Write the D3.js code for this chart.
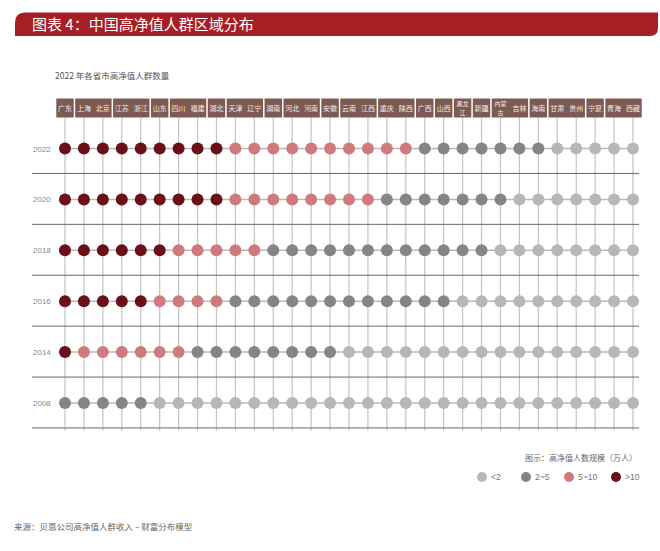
<!DOCTYPE html>
<html><head><meta charset="utf-8">
<script src="https://cdn.jsdelivr.net/npm/d3@7/dist/d3.min.js"></script>
<style>
html,body{margin:0;padding:0;background:#fff;}
svg{display:block;font-family:"Noto Sans CJK SC","Noto Sans",sans-serif;}
</style></head>
<body><svg id="chart" width="660" height="551"></svg>
<script>
// ---- data ----
const provinces = ["广东","上海","北京","江苏","浙江","山东","四川","福建","湖北","天津","辽宁","湖南","河北","河南","安徽","云南","江西","重庆","陕西","广西","山西","黑龙江","新疆","内蒙古","吉林","海南","甘肃","贵州","宁夏","青海","西藏"];
const headerGroups = [["广东"],["上海","北京"],["江苏","浙江"],["山东"],["四川","福建"],["湖北"],["天津","辽宁"],["湖南"],["河北","河南"],["安徽"],["云南","江西"],["重庆","陕西"],["广西"],["山西"],["黑龙江"],["新疆"],["内蒙古","吉林"],["海南"],["甘肃","贵州"],["宁夏"],["青海","西藏"]];
const years = ["2022","2020","2018","2016","2014","2008"];
const levels = ["<2","2~5","5~10",">10"];
const levelColors = ["#b7b7b7","#858585","#cf7b7e","#6b0f18"];
// level index per province (0:<2, 1:2~5, 2:5~10, 3:>10)
const level2022 = [3,3,3,3,3,3,3,3,3,2,2,2,2,2,2,2,2,2,2,1,1,1,1,1,1,1,0,0,0,0,0];
const level2020 = [3,3,3,3,3,3,3,3,3,2,2,2,2,2,2,2,2,1,1,1,1,1,1,1,0,0,0,0,0,0,0];
const level2018 = [3,3,3,3,3,3,2,2,2,2,2,1,1,1,1,1,1,1,1,1,1,1,1,0,0,0,0,0,0,0,0];
const level2016 = [3,3,3,3,3,2,2,2,2,1,1,1,1,1,1,1,1,1,1,1,1,0,0,0,0,0,0,0,0,0,0];
const level2014 = [3,2,2,2,2,2,2,1,1,1,1,1,1,1,1,0,0,0,0,0,0,0,0,0,0,0,0,0,0,0,0];
const level2008 = [1,1,1,1,1,0,0,0,0,0,0,0,0,0,0,0,0,0,0,0,0,0,0,0,0,0,0,0,0,0,0];
const levelsByYear = {"2022":level2022,"2020":level2020,"2018":level2018,"2016":level2016,"2014":level2014,"2008":level2008};

const titleText = "图表 4：中国高净值人群区域分布";
const subtitleText = "2022 年各省市高净值人群数量";
const legendTitle = "图示：高净值人数规模（万人）";
const sourceText = "来源：贝恩公司高净值人群收入 – 财富分布模型";

// ---- drawing ----
const svg = d3.select("#chart");

// title band
(function(){
  const x0=15,x1=658,y0=12.5,y1=36,r1=10,r2=8;
  const p = d3.path();
  p.moveTo(x0, y1);
  p.lineTo(x0, y0+r1);
  p.quadraticCurveTo(x0, y0, x0+r1, y0);
  p.lineTo(x1, y0);
  p.lineTo(x1, y1-r2);
  p.quadraticCurveTo(x1, y1, x1-r2, y1);
  p.closePath();
  svg.append("path").attr("d", p.toString()).attr("fill","#a61f25");
  svg.append("text").attr("x",32).attr("y",29.5).attr("fill","#fff")
    .attr("font-size",15).text(titleText);
})();

svg.append("text").attr("x",55).attr("y",79).attr("fill","#555")
  .attr("font-size",8.5).text(subtitleText);

const x = d3.scalePoint().domain(provinces).range([65, 633]);
const step = x.step();
const y = d3.scalePoint().domain(years).range([148.5, 403]);
const rowStep = y.step();
const headerTop = 98.5, headerBottom = 117.5;
const gridBottom = y(years[years.length-1]) + rowStep/2 + 2;

// vertical lines
svg.append("g").selectAll("line").data(provinces).join("line")
  .attr("x1", d=>x(d)).attr("x2", d=>x(d))
  .attr("y1", headerBottom).attr("y2", gridBottom)
  .attr("stroke","#c4c4c4").attr("stroke-width",1.2);

// header boxes
const hg = svg.append("g");
headerGroups.forEach(g=>{
  const left = x(g[0]) - step/2 + 0.75;
  const right = x(g[g.length-1]) + step/2 - 0.75;
  hg.append("rect").attr("x",left).attr("y",headerTop)
    .attr("width",right-left).attr("height",headerBottom-headerTop)
    .attr("fill","#7d5b52");
});
provinces.forEach(p=>{
  const cx = x(p), cy = (headerTop+headerBottom)/2;
  if (p.length === 3) {
    hg.append("text").attr("text-anchor","middle").attr("fill","#f4ecea")
      .attr("font-size",6).attr("x",cx).attr("y",cy-1.8).text(p.slice(0,2));
    hg.append("text").attr("text-anchor","middle").attr("fill","#f4ecea")
      .attr("font-size",6).attr("x",cx).attr("y",cy+6.6).text(p.slice(2));
  } else {
    hg.append("text").attr("text-anchor","middle").attr("fill","#f4ecea")
      .attr("font-size",7).attr("x",cx).attr("y",cy+2.5).text(p);
  }
});

// rows
const rows = svg.append("g").selectAll("g").data(years).join("g")
  .attr("transform", d=>`translate(0,${y(d)})`);
rows.append("line").attr("x1",x(provinces[0])).attr("x2",x(provinces[provinces.length-1]))
  .attr("stroke","#b9b9b9").attr("stroke-width",1.5);
rows.append("line").attr("x1",32).attr("x2",639)
  .attr("y1", rowStep/2-0.5).attr("y2", rowStep/2-0.5)
  .attr("stroke","#6a6a6a").attr("stroke-width",1);
rows.append("text").attr("x",33).attr("y",3).attr("fill","#888")
  .attr("font-size",8).attr("font-family","Liberation Sans, Arial, sans-serif").text(d=>d);
rows.selectAll("circle").data(yr=>levelsByYear[yr].map((lv,i)=>({p:provinces[i],lv})))
  .join("circle").attr("cx",d=>x(d.p)).attr("cy",0).attr("r",6)
  .attr("fill",d=>levelColors[d.lv]);

// legend
svg.append("text").attr("x",637).attr("y",461).attr("text-anchor","end")
  .attr("fill","#666").attr("font-size",8).text(legendTitle);
const legendX = [482, 526, 569, 616];
const lg = svg.append("g").selectAll("g").data(levels).join("g")
  .attr("transform",(d,i)=>`translate(${legendX[i]},477)`);
lg.append("circle").attr("r",5).attr("fill",(d,i)=>levelColors[i]);
lg.append("text").attr("x",9).attr("y",3).attr("fill","#777").attr("font-size",8.5)
  .attr("font-family","Liberation Sans, Arial, sans-serif").text(d=>d);

svg.append("text").attr("x",14).attr("y",530).attr("fill","#666")
  .attr("font-size",8.5).text(sourceText);
</script></body></html>
